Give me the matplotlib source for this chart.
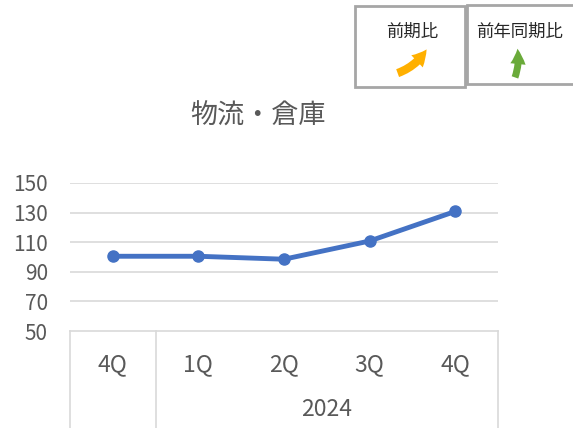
import matplotlib
matplotlib.use("Agg")
import matplotlib.pyplot as plt
import numpy as np
from matplotlib.patches import Rectangle, FancyArrowPatch
from matplotlib.lines import Line2D
import matplotlib.transforms as mtransforms

plt.rcParams['font.family'] = ['Noto Sans CJK JP', 'DejaVu Sans']

# data
quarters = ["4Q", "1Q", "2Q", "3Q", "4Q"]
year_label = "2024"
values = [100.5, 100.5, 98.5, 110.8, 130.8]
yticks = [50, 70, 90, 110, 130, 150]
title = "物流・倉庫"
legend_labels = ["前期比", "前年同期比"]

W, H = 573, 428
fig = plt.figure(figsize=(W / 100, H / 100), dpi=100)
fig.patch.set_facecolor("white")

def fx(px):
    return px / W

def fy(py):
    return 1 - py / H

left, right, top, bottom = 70, 498, 183, 331
ax = fig.add_axes([fx(left), fy(bottom), (right - left) / W, (bottom - top) / H])
ax.set_xlim(-0.5, len(quarters) - 0.5)
ax.set_ylim(50, 150)
for s in ax.spines.values():
    s.set_visible(False)
ax.set_xticks([])
ax.set_yticks(yticks)
ax.set_yticklabels([str(v) for v in yticks], fontsize=15, color="#595959")
ax.tick_params(axis="y", length=0, pad=16)
for v in yticks[1:]:
    ax.axhline(v, color="#d9d9d9", lw=1.2, zorder=1)

grey = "#595959"
line_c = "#d9d9d9"

# category axis box
blend = mtransforms.blended_transform_factory(ax.transData, ax.transAxes)
depth = -(H - bottom) / (bottom - top)
ax.add_line(Line2D([-0.5, len(quarters) - 0.5], [0, 0], transform=blend,
                   color=line_c, lw=1.2, clip_on=False))
for xv in [-0.5, 0.5, len(quarters) - 0.5]:
    ax.add_line(Line2D([xv, xv], [0, depth], transform=blend,
                       color=line_c, lw=1.2, clip_on=False))
lab_y = -(365 - bottom) / (bottom - top)
for i, q in enumerate(quarters):
    ax.text(i, lab_y, q, transform=blend, ha="center", va="center",
            fontsize=16.5, color=grey)
yr_y = -(410 - bottom) / (bottom - top)
ax.text((1 + len(quarters) - 1) / 2, yr_y, year_label, transform=blend,
        ha="center", va="center", fontsize=16.5, color=grey)

# series line
xs = np.arange(len(values))
ax.plot(xs, values, color="#4472c4", lw=3.5, solid_capstyle="round",
        solid_joinstyle="round", marker="o", markersize=8, zorder=3)

fig.text(fx(258), fy(116), title, ha="center", va="center",
         fontsize=19.5, color=grey)

# legend boxes
box_c = "#a6a6a6"
fig.patches.append(Rectangle((fx(355), fy(87)), (465 - 355) / W, (87 - 6) / H,
                             transform=fig.transFigure, facecolor="white",
                             edgecolor=box_c, lw=2))
fig.patches.append(Rectangle((fx(467), fy(84)), (580 - 467) / W, (84 - 5) / H,
                             transform=fig.transFigure, facecolor="white",
                             edgecolor=box_c, lw=2))
fig.text(fx(412), fy(32), legend_labels[0], ha="center", va="center",
         fontsize=12.5, color="#262626")
fig.text(fx(520), fy(32), legend_labels[1], ha="center", va="center",
         fontsize=12.5, color="#262626")

arr1 = FancyArrowPatch((fx(395), fy(74)), (fx(428), fy(47)),
                       transform=fig.transFigure,
                       arrowstyle="simple,head_width=12,head_length=11,tail_width=6",
                       connectionstyle="arc3,rad=0.2", color="#ffb000", lw=0)
arr2 = FancyArrowPatch((fx(514), fy(80)), (fx(517), fy(46)),
                       transform=fig.transFigure,
                       arrowstyle="simple,head_width=11,head_length=11,tail_width=5",
                       connectionstyle="arc3,rad=0.15", color="#6aaa3a", lw=0)
fig.patches.extend([arr1, arr2])

fig.savefig("out.png", dpi=100, facecolor="white")
